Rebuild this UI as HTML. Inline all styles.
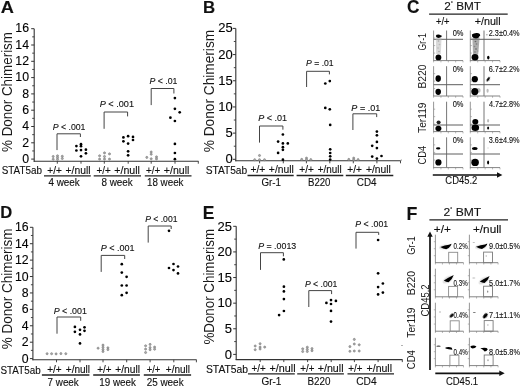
<!DOCTYPE html>
<html><head><meta charset="utf-8"><style>
html,body{margin:0;padding:0;background:#fff;}
svg{display:block;}
text{font-family:"Liberation Sans", sans-serif;stroke:#111;stroke-width:0.12px;}
</style></head><body>
<svg width="520" height="387" viewBox="0 0 520 387">
<defs><filter id="b" x="-50%" y="-50%" width="200%" height="200%"><feGaussianBlur stdDeviation="0.35"/></filter><filter id="gb" x="0" y="0" width="100%" height="100%" color-interpolation-filters="sRGB"><feGaussianBlur stdDeviation="0.3"/></filter><filter id="b2" x="-50%" y="-50%" width="200%" height="200%"><feGaussianBlur stdDeviation="0.7"/></filter></defs>
<rect width="520" height="387" fill="#fff"/>
<g filter="url(#gb)">
<rect width="520" height="387" fill="#fff"/>
<text x="0.73" y="12.90" font-size="17" font-weight="bold" textLength="13.14" lengthAdjust="spacingAndGlyphs" fill="#111">A</text>
<line x1="34.20" y1="28.70" x2="34.20" y2="161.70" stroke="#333" stroke-width="1.1"/>
<line x1="33.70" y1="161.20" x2="198.50" y2="161.20" stroke="#333" stroke-width="1.1"/>
<line x1="31.20" y1="159.10" x2="34.20" y2="159.10" stroke="#333" stroke-width="1"/>
<text x="29.00" y="162.80" font-size="12.3" text-anchor="end">0</text>
<line x1="32.20" y1="150.95" x2="34.20" y2="150.95" stroke="#333" stroke-width="0.9"/>
<line x1="31.20" y1="142.80" x2="34.20" y2="142.80" stroke="#333" stroke-width="1"/>
<text x="29.00" y="146.50" font-size="12.3" text-anchor="end">2</text>
<line x1="32.20" y1="134.65" x2="34.20" y2="134.65" stroke="#333" stroke-width="0.9"/>
<line x1="31.20" y1="126.50" x2="34.20" y2="126.50" stroke="#333" stroke-width="1"/>
<text x="29.00" y="130.20" font-size="12.3" text-anchor="end">4</text>
<line x1="32.20" y1="118.35" x2="34.20" y2="118.35" stroke="#333" stroke-width="0.9"/>
<line x1="31.20" y1="110.20" x2="34.20" y2="110.20" stroke="#333" stroke-width="1"/>
<text x="29.00" y="113.90" font-size="12.3" text-anchor="end">6</text>
<line x1="32.20" y1="102.05" x2="34.20" y2="102.05" stroke="#333" stroke-width="0.9"/>
<line x1="31.20" y1="93.90" x2="34.20" y2="93.90" stroke="#333" stroke-width="1"/>
<text x="29.00" y="97.60" font-size="12.3" text-anchor="end">8</text>
<line x1="32.20" y1="85.75" x2="34.20" y2="85.75" stroke="#333" stroke-width="0.9"/>
<line x1="31.20" y1="77.60" x2="34.20" y2="77.60" stroke="#333" stroke-width="1"/>
<text x="29.00" y="81.30" font-size="12.3" text-anchor="end">10</text>
<line x1="32.20" y1="69.45" x2="34.20" y2="69.45" stroke="#333" stroke-width="0.9"/>
<line x1="31.20" y1="61.30" x2="34.20" y2="61.30" stroke="#333" stroke-width="1"/>
<text x="29.00" y="65.00" font-size="12.3" text-anchor="end">12</text>
<line x1="32.20" y1="53.15" x2="34.20" y2="53.15" stroke="#333" stroke-width="0.9"/>
<line x1="31.20" y1="45.00" x2="34.20" y2="45.00" stroke="#333" stroke-width="1"/>
<text x="29.00" y="48.70" font-size="12.3" text-anchor="end">14</text>
<line x1="32.20" y1="36.85" x2="34.20" y2="36.85" stroke="#333" stroke-width="0.9"/>
<line x1="31.20" y1="28.70" x2="34.20" y2="28.70" stroke="#333" stroke-width="1"/>
<text x="29.00" y="32.40" font-size="12.3" text-anchor="end">16</text>
<line x1="57.30" y1="161.20" x2="57.30" y2="163.70" stroke="#333" stroke-width="0.9"/>
<line x1="81.00" y1="161.20" x2="81.00" y2="163.70" stroke="#333" stroke-width="0.9"/>
<line x1="104.30" y1="161.20" x2="104.30" y2="163.70" stroke="#333" stroke-width="0.9"/>
<line x1="128.20" y1="161.20" x2="128.20" y2="163.70" stroke="#333" stroke-width="0.9"/>
<line x1="151.20" y1="161.20" x2="151.20" y2="163.70" stroke="#333" stroke-width="0.9"/>
<line x1="175.00" y1="161.20" x2="175.00" y2="163.70" stroke="#333" stroke-width="0.9"/>
<line x1="198.30" y1="161.20" x2="198.30" y2="163.70" stroke="#333" stroke-width="0.9"/>
<text transform="translate(12.00,151.96) rotate(-90)" x="0" y="0" font-size="14.5" style="stroke-width:0" textLength="119.97" lengthAdjust="spacingAndGlyphs" fill="#1a1a1a">% Donor Chimerism</text>
<text x="1.71" y="173.80" font-size="10" textLength="40.26" lengthAdjust="spacingAndGlyphs" fill="#111">STAT5ab</text>
<text x="47.30" y="173.50" font-size="10" textLength="14.47" lengthAdjust="spacingAndGlyphs" fill="#111">+/+</text>
<text x="65.48" y="173.50" font-size="10" textLength="25.03" lengthAdjust="spacingAndGlyphs" fill="#111">+/null</text>
<line x1="44.00" y1="175.80" x2="90.80" y2="175.80" stroke="#222" stroke-width="1.3"/>
<text x="48.45" y="185.60" font-size="10" textLength="31.29" lengthAdjust="spacingAndGlyphs" fill="#111">4 week</text>
<text x="96.61" y="173.50" font-size="10" textLength="14.25" lengthAdjust="spacingAndGlyphs" fill="#111">+/+</text>
<text x="114.27" y="173.50" font-size="10" textLength="25.66" lengthAdjust="spacingAndGlyphs" fill="#111">+/null</text>
<line x1="93.70" y1="175.80" x2="141.00" y2="175.80" stroke="#222" stroke-width="1.3"/>
<text x="101.45" y="185.60" font-size="10" textLength="31.39" lengthAdjust="spacingAndGlyphs" fill="#111">8 week</text>
<text x="146.01" y="173.50" font-size="10" textLength="14.25" lengthAdjust="spacingAndGlyphs" fill="#111">+/+</text>
<text x="163.87" y="173.50" font-size="10" textLength="25.55" lengthAdjust="spacingAndGlyphs" fill="#111">+/null</text>
<line x1="144.80" y1="175.80" x2="191.50" y2="175.80" stroke="#222" stroke-width="1.3"/>
<text x="146.96" y="185.60" font-size="10" textLength="36.54" lengthAdjust="spacingAndGlyphs" fill="#111">18 week</text>
<text x="52.77" y="129.80" font-size="9.3" textLength="32.72" lengthAdjust="spacingAndGlyphs" fill="#111"><tspan font-style="italic">P</tspan> &lt; .001</text>
<path d="M57.00 150.10 V133.80 H80.40 V137.00" fill="none" stroke="#444" stroke-width="1"/>
<text x="99.75" y="107.00" font-size="9.3" textLength="34.24" lengthAdjust="spacingAndGlyphs" fill="#111"><tspan font-style="italic">P</tspan> &lt; .001</text>
<path d="M104.10 128.80 V112.00 H127.60 V116.40" fill="none" stroke="#444" stroke-width="1"/>
<text x="149.46" y="84.20" font-size="9.3" textLength="27.96" lengthAdjust="spacingAndGlyphs" fill="#111"><tspan font-style="italic">P</tspan> &lt; .01</text>
<path d="M151.20 105.10 V88.50 H173.90 V93.50" fill="none" stroke="#444" stroke-width="1"/>
<circle cx="53.20" cy="156.50" r="1.05" fill="#aaa" stroke="#777" stroke-width="0.6"/>
<circle cx="53.20" cy="159.20" r="1.05" fill="#aaa" stroke="#777" stroke-width="0.6"/>
<circle cx="57.50" cy="155.80" r="1.05" fill="#aaa" stroke="#777" stroke-width="0.6"/>
<circle cx="57.50" cy="157.60" r="1.05" fill="#aaa" stroke="#777" stroke-width="0.6"/>
<circle cx="57.50" cy="159.40" r="1.05" fill="#aaa" stroke="#777" stroke-width="0.6"/>
<circle cx="62.30" cy="156.30" r="1.05" fill="#aaa" stroke="#777" stroke-width="0.6"/>
<circle cx="62.30" cy="158.50" r="1.05" fill="#aaa" stroke="#777" stroke-width="0.6"/>
<circle cx="99.60" cy="155.80" r="1.05" fill="#aaa" stroke="#777" stroke-width="0.6"/>
<circle cx="99.60" cy="159.10" r="1.05" fill="#aaa" stroke="#777" stroke-width="0.6"/>
<circle cx="104.50" cy="152.90" r="1.05" fill="#aaa" stroke="#777" stroke-width="0.6"/>
<circle cx="104.50" cy="156.50" r="1.05" fill="#aaa" stroke="#777" stroke-width="0.6"/>
<circle cx="104.50" cy="159.10" r="1.05" fill="#aaa" stroke="#777" stroke-width="0.6"/>
<circle cx="109.50" cy="153.90" r="1.05" fill="#aaa" stroke="#777" stroke-width="0.6"/>
<circle cx="109.50" cy="159.10" r="1.05" fill="#aaa" stroke="#777" stroke-width="0.6"/>
<circle cx="146.80" cy="157.40" r="1.05" fill="#aaa" stroke="#777" stroke-width="0.6"/>
<circle cx="151.20" cy="152.00" r="1.05" fill="#aaa" stroke="#777" stroke-width="0.6"/>
<circle cx="151.20" cy="154.20" r="1.05" fill="#aaa" stroke="#777" stroke-width="0.6"/>
<circle cx="151.20" cy="158.80" r="1.05" fill="#aaa" stroke="#777" stroke-width="0.6"/>
<circle cx="156.50" cy="156.90" r="1.05" fill="#aaa" stroke="#777" stroke-width="0.6"/>
<circle cx="156.50" cy="158.90" r="1.05" fill="#aaa" stroke="#777" stroke-width="0.6"/>
<circle cx="76.40" cy="146.10" r="1.35" fill="#000"/>
<circle cx="81.00" cy="144.20" r="1.35" fill="#000"/>
<circle cx="81.00" cy="146.20" r="1.35" fill="#000"/>
<circle cx="76.40" cy="150.50" r="1.35" fill="#000"/>
<circle cx="81.00" cy="150.10" r="1.35" fill="#000"/>
<circle cx="85.90" cy="149.70" r="1.35" fill="#000"/>
<circle cx="85.90" cy="153.30" r="1.35" fill="#000"/>
<circle cx="81.00" cy="156.30" r="1.35" fill="#000"/>
<circle cx="123.40" cy="137.40" r="1.35" fill="#000"/>
<circle cx="128.10" cy="136.20" r="1.35" fill="#000"/>
<circle cx="133.00" cy="136.90" r="1.35" fill="#000"/>
<circle cx="123.40" cy="141.30" r="1.35" fill="#000"/>
<circle cx="133.00" cy="140.00" r="1.35" fill="#000"/>
<circle cx="128.10" cy="143.60" r="1.35" fill="#000"/>
<circle cx="128.10" cy="151.30" r="1.35" fill="#000"/>
<circle cx="128.10" cy="155.30" r="1.35" fill="#000"/>
<circle cx="174.90" cy="98.10" r="1.35" fill="#000"/>
<circle cx="174.90" cy="108.80" r="1.35" fill="#000"/>
<circle cx="179.70" cy="112.30" r="1.35" fill="#000"/>
<circle cx="170.40" cy="117.70" r="1.35" fill="#000"/>
<circle cx="174.90" cy="121.00" r="1.35" fill="#000"/>
<circle cx="174.90" cy="143.90" r="1.35" fill="#000"/>
<circle cx="174.90" cy="153.00" r="1.35" fill="#000"/>
<circle cx="174.90" cy="159.20" r="1.35" fill="#000"/>
<text x="203.01" y="13.00" font-size="17" font-weight="bold" textLength="12.16" lengthAdjust="spacingAndGlyphs" fill="#111">B</text>
<line x1="235.80" y1="28.40" x2="235.80" y2="161.30" stroke="#333" stroke-width="1.1"/>
<line x1="235.30" y1="160.80" x2="400.70" y2="160.80" stroke="#333" stroke-width="1.1"/>
<line x1="232.80" y1="159.30" x2="235.80" y2="159.30" stroke="#333" stroke-width="1"/>
<text x="232.80" y="163.30" font-size="13" text-anchor="end">0</text>
<line x1="233.80" y1="146.21" x2="235.80" y2="146.21" stroke="#333" stroke-width="0.9"/>
<line x1="232.80" y1="133.12" x2="235.80" y2="133.12" stroke="#333" stroke-width="1"/>
<text x="232.80" y="137.12" font-size="13" text-anchor="end">5</text>
<line x1="233.80" y1="120.03" x2="235.80" y2="120.03" stroke="#333" stroke-width="0.9"/>
<line x1="232.80" y1="106.94" x2="235.80" y2="106.94" stroke="#333" stroke-width="1"/>
<text x="232.80" y="110.94" font-size="13" text-anchor="end">10</text>
<line x1="233.80" y1="93.85" x2="235.80" y2="93.85" stroke="#333" stroke-width="0.9"/>
<line x1="232.80" y1="80.76" x2="235.80" y2="80.76" stroke="#333" stroke-width="1"/>
<text x="232.80" y="84.76" font-size="13" text-anchor="end">15</text>
<line x1="233.80" y1="67.67" x2="235.80" y2="67.67" stroke="#333" stroke-width="0.9"/>
<line x1="232.80" y1="54.58" x2="235.80" y2="54.58" stroke="#333" stroke-width="1"/>
<text x="232.80" y="58.58" font-size="13" text-anchor="end">20</text>
<line x1="233.80" y1="41.49" x2="235.80" y2="41.49" stroke="#333" stroke-width="0.9"/>
<line x1="232.80" y1="28.40" x2="235.80" y2="28.40" stroke="#333" stroke-width="1"/>
<text x="232.80" y="32.40" font-size="13" text-anchor="end">25</text>
<line x1="259.60" y1="160.80" x2="259.60" y2="163.30" stroke="#333" stroke-width="0.9"/>
<line x1="283.30" y1="160.80" x2="283.30" y2="163.30" stroke="#333" stroke-width="0.9"/>
<line x1="306.40" y1="160.80" x2="306.40" y2="163.30" stroke="#333" stroke-width="0.9"/>
<line x1="329.80" y1="160.80" x2="329.80" y2="163.30" stroke="#333" stroke-width="0.9"/>
<line x1="353.30" y1="160.80" x2="353.30" y2="163.30" stroke="#333" stroke-width="0.9"/>
<line x1="376.90" y1="160.80" x2="376.90" y2="163.30" stroke="#333" stroke-width="0.9"/>
<line x1="400.50" y1="160.80" x2="400.50" y2="163.30" stroke="#333" stroke-width="0.9"/>
<text transform="translate(213.80,152.27) rotate(-90)" x="0" y="0" font-size="14.5" style="stroke-width:0" textLength="122.40" lengthAdjust="spacingAndGlyphs" fill="#1a1a1a">% Donor Chimerism</text>
<text x="205.69" y="173.60" font-size="10" textLength="41.48" lengthAdjust="spacingAndGlyphs" fill="#111">STAT5ab</text>
<text x="250.49" y="173.20" font-size="10" textLength="14.79" lengthAdjust="spacingAndGlyphs" fill="#111">+/+</text>
<text x="268.88" y="173.20" font-size="10" textLength="24.92" lengthAdjust="spacingAndGlyphs" fill="#111">+/null</text>
<line x1="247.50" y1="175.50" x2="293.70" y2="175.50" stroke="#222" stroke-width="1.3"/>
<text x="261.41" y="185.80" font-size="10" textLength="19.47" lengthAdjust="spacingAndGlyphs" fill="#111">Gr-1</text>
<text x="299.30" y="173.20" font-size="10" textLength="14.47" lengthAdjust="spacingAndGlyphs" fill="#111">+/+</text>
<text x="317.81" y="173.20" font-size="10" textLength="23.87" lengthAdjust="spacingAndGlyphs" fill="#111">+/null</text>
<line x1="296.60" y1="175.50" x2="343.30" y2="175.50" stroke="#222" stroke-width="1.3"/>
<text x="307.98" y="185.80" font-size="10" textLength="22.47" lengthAdjust="spacingAndGlyphs" fill="#111">B220</text>
<text x="347.30" y="173.20" font-size="10" textLength="14.47" lengthAdjust="spacingAndGlyphs" fill="#111">+/+</text>
<text x="365.98" y="173.20" font-size="10" textLength="24.92" lengthAdjust="spacingAndGlyphs" fill="#111">+/null</text>
<line x1="345.80" y1="175.50" x2="393.30" y2="175.50" stroke="#222" stroke-width="1.3"/>
<text x="356.81" y="185.80" font-size="10" textLength="19.76" lengthAdjust="spacingAndGlyphs" fill="#111">CD4</text>
<text x="258.16" y="121.00" font-size="9.3" textLength="28.87" lengthAdjust="spacingAndGlyphs" fill="#111"><tspan font-style="italic">P</tspan> &lt; .01</text>
<path d="M259.50 142.60 V126.00 H282.90 V129.70" fill="none" stroke="#444" stroke-width="1"/>
<text x="306.07" y="66.30" font-size="9.3" textLength="27.55" lengthAdjust="spacingAndGlyphs" fill="#111"><tspan font-style="italic">P</tspan> = .01</text>
<path d="M306.60 87.00 V71.30 H329.40 V74.40" fill="none" stroke="#444" stroke-width="1"/>
<text x="351.36" y="110.70" font-size="9.3" textLength="28.87" lengthAdjust="spacingAndGlyphs" fill="#111"><tspan font-style="italic">P</tspan> = .01</text>
<path d="M352.90 130.00 V113.80 H376.70 V117.10" fill="none" stroke="#444" stroke-width="1"/>
<circle cx="259.50" cy="155.50" r="1.05" fill="#aaa" stroke="#777" stroke-width="0.6"/>
<circle cx="254.70" cy="159.70" r="1.05" fill="#aaa" stroke="#777" stroke-width="0.6"/>
<circle cx="259.50" cy="159.70" r="1.05" fill="#aaa" stroke="#777" stroke-width="0.6"/>
<circle cx="264.50" cy="159.70" r="1.05" fill="#aaa" stroke="#777" stroke-width="0.6"/>
<circle cx="301.70" cy="159.40" r="1.05" fill="#aaa" stroke="#777" stroke-width="0.6"/>
<circle cx="306.50" cy="158.10" r="1.05" fill="#aaa" stroke="#777" stroke-width="0.6"/>
<circle cx="306.50" cy="159.80" r="1.05" fill="#aaa" stroke="#777" stroke-width="0.6"/>
<circle cx="310.80" cy="159.60" r="1.05" fill="#aaa" stroke="#777" stroke-width="0.6"/>
<circle cx="348.80" cy="159.40" r="1.05" fill="#aaa" stroke="#777" stroke-width="0.6"/>
<circle cx="353.70" cy="158.10" r="1.05" fill="#aaa" stroke="#777" stroke-width="0.6"/>
<circle cx="353.70" cy="159.80" r="1.05" fill="#aaa" stroke="#777" stroke-width="0.6"/>
<circle cx="358.10" cy="159.60" r="1.05" fill="#aaa" stroke="#777" stroke-width="0.6"/>
<circle cx="282.90" cy="134.50" r="1.35" fill="#000"/>
<circle cx="278.10" cy="141.60" r="1.35" fill="#000"/>
<circle cx="282.90" cy="143.40" r="1.35" fill="#000"/>
<circle cx="287.80" cy="143.40" r="1.35" fill="#000"/>
<circle cx="282.90" cy="147.20" r="1.35" fill="#000"/>
<circle cx="282.90" cy="149.80" r="1.35" fill="#000"/>
<circle cx="278.10" cy="152.90" r="1.35" fill="#000"/>
<circle cx="282.90" cy="159.70" r="1.35" fill="#000"/>
<circle cx="325.30" cy="83.50" r="1.35" fill="#000"/>
<circle cx="329.80" cy="81.10" r="1.35" fill="#000"/>
<circle cx="325.30" cy="107.90" r="1.35" fill="#000"/>
<circle cx="329.80" cy="109.30" r="1.35" fill="#000"/>
<circle cx="330.20" cy="124.90" r="1.35" fill="#000"/>
<circle cx="330.20" cy="149.30" r="1.35" fill="#000"/>
<circle cx="330.20" cy="153.00" r="1.35" fill="#000"/>
<circle cx="330.20" cy="156.30" r="1.35" fill="#000"/>
<circle cx="330.20" cy="159.60" r="1.35" fill="#000"/>
<circle cx="376.90" cy="131.60" r="1.35" fill="#000"/>
<circle cx="376.90" cy="135.30" r="1.35" fill="#000"/>
<circle cx="376.90" cy="141.90" r="1.35" fill="#000"/>
<circle cx="372.20" cy="145.80" r="1.35" fill="#000"/>
<circle cx="376.90" cy="148.10" r="1.35" fill="#000"/>
<circle cx="372.20" cy="156.60" r="1.35" fill="#000"/>
<circle cx="381.50" cy="156.00" r="1.35" fill="#000"/>
<circle cx="376.90" cy="158.60" r="1.35" fill="#000"/>
<text x="0.32" y="218.30" font-size="17" font-weight="bold" textLength="12.00" lengthAdjust="spacingAndGlyphs" fill="#111">D</text>
<line x1="32.90" y1="227.30" x2="32.90" y2="360.30" stroke="#333" stroke-width="1.1"/>
<line x1="32.40" y1="359.80" x2="196.60" y2="359.80" stroke="#333" stroke-width="1.1"/>
<line x1="29.90" y1="358.60" x2="32.90" y2="358.60" stroke="#333" stroke-width="1"/>
<text x="28.60" y="362.60" font-size="12.3" text-anchor="end">0</text>
<line x1="30.90" y1="350.39" x2="32.90" y2="350.39" stroke="#333" stroke-width="0.9"/>
<line x1="29.90" y1="342.19" x2="32.90" y2="342.19" stroke="#333" stroke-width="1"/>
<text x="28.60" y="346.19" font-size="12.3" text-anchor="end">2</text>
<line x1="30.90" y1="333.98" x2="32.90" y2="333.98" stroke="#333" stroke-width="0.9"/>
<line x1="29.90" y1="325.78" x2="32.90" y2="325.78" stroke="#333" stroke-width="1"/>
<text x="28.60" y="329.78" font-size="12.3" text-anchor="end">4</text>
<line x1="30.90" y1="317.57" x2="32.90" y2="317.57" stroke="#333" stroke-width="0.9"/>
<line x1="29.90" y1="309.36" x2="32.90" y2="309.36" stroke="#333" stroke-width="1"/>
<text x="28.60" y="313.36" font-size="12.3" text-anchor="end">6</text>
<line x1="30.90" y1="301.16" x2="32.90" y2="301.16" stroke="#333" stroke-width="0.9"/>
<line x1="29.90" y1="292.95" x2="32.90" y2="292.95" stroke="#333" stroke-width="1"/>
<text x="28.60" y="296.95" font-size="12.3" text-anchor="end">8</text>
<line x1="30.90" y1="284.74" x2="32.90" y2="284.74" stroke="#333" stroke-width="0.9"/>
<line x1="29.90" y1="276.54" x2="32.90" y2="276.54" stroke="#333" stroke-width="1"/>
<text x="28.60" y="280.54" font-size="12.3" text-anchor="end">10</text>
<line x1="30.90" y1="268.33" x2="32.90" y2="268.33" stroke="#333" stroke-width="0.9"/>
<line x1="29.90" y1="260.12" x2="32.90" y2="260.12" stroke="#333" stroke-width="1"/>
<text x="28.60" y="264.12" font-size="12.3" text-anchor="end">12</text>
<line x1="30.90" y1="251.92" x2="32.90" y2="251.92" stroke="#333" stroke-width="0.9"/>
<line x1="29.90" y1="243.71" x2="32.90" y2="243.71" stroke="#333" stroke-width="1"/>
<text x="28.60" y="247.71" font-size="12.3" text-anchor="end">14</text>
<line x1="30.90" y1="235.51" x2="32.90" y2="235.51" stroke="#333" stroke-width="0.9"/>
<line x1="29.90" y1="227.30" x2="32.90" y2="227.30" stroke="#333" stroke-width="1"/>
<text x="28.60" y="231.30" font-size="12.3" text-anchor="end">16</text>
<line x1="56.50" y1="359.80" x2="56.50" y2="362.30" stroke="#333" stroke-width="0.9"/>
<line x1="80.00" y1="359.80" x2="80.00" y2="362.30" stroke="#333" stroke-width="0.9"/>
<line x1="103.00" y1="359.80" x2="103.00" y2="362.30" stroke="#333" stroke-width="0.9"/>
<line x1="126.70" y1="359.80" x2="126.70" y2="362.30" stroke="#333" stroke-width="0.9"/>
<line x1="150.10" y1="359.80" x2="150.10" y2="362.30" stroke="#333" stroke-width="0.9"/>
<line x1="173.80" y1="359.80" x2="173.80" y2="362.30" stroke="#333" stroke-width="0.9"/>
<line x1="196.40" y1="359.80" x2="196.40" y2="362.30" stroke="#333" stroke-width="0.9"/>
<text transform="translate(11.80,349.27) rotate(-90)" x="0" y="0" font-size="14.5" style="stroke-width:0" textLength="120.68" lengthAdjust="spacingAndGlyphs" fill="#1a1a1a">% Donor Chimerism</text>
<text x="0.51" y="373.60" font-size="10" textLength="40.15" lengthAdjust="spacingAndGlyphs" fill="#111">STAT5ab</text>
<text x="47.20" y="372.60" font-size="10" textLength="14.47" lengthAdjust="spacingAndGlyphs" fill="#111">+/+</text>
<text x="65.80" y="372.60" font-size="10" textLength="24.29" lengthAdjust="spacingAndGlyphs" fill="#111">+/null</text>
<line x1="41.90" y1="375.00" x2="89.40" y2="375.00" stroke="#222" stroke-width="1.3"/>
<text x="47.61" y="385.80" font-size="10" textLength="31.13" lengthAdjust="spacingAndGlyphs" fill="#111">7 week</text>
<text x="97.31" y="372.60" font-size="10" textLength="14.25" lengthAdjust="spacingAndGlyphs" fill="#111">+/+</text>
<text x="115.19" y="372.60" font-size="10" textLength="24.82" lengthAdjust="spacingAndGlyphs" fill="#111">+/null</text>
<line x1="93.20" y1="375.00" x2="139.90" y2="375.00" stroke="#222" stroke-width="1.3"/>
<text x="99.36" y="385.80" font-size="10" textLength="36.54" lengthAdjust="spacingAndGlyphs" fill="#111">19 week</text>
<text x="146.73" y="372.60" font-size="10" textLength="13.61" lengthAdjust="spacingAndGlyphs" fill="#111">+/+</text>
<text x="165.80" y="372.60" font-size="10" textLength="24.19" lengthAdjust="spacingAndGlyphs" fill="#111">+/null</text>
<line x1="143.80" y1="375.00" x2="191.10" y2="375.00" stroke="#222" stroke-width="1.3"/>
<text x="146.70" y="385.80" font-size="10" textLength="36.90" lengthAdjust="spacingAndGlyphs" fill="#111">25 week</text>
<text x="53.66" y="313.80" font-size="9.3" textLength="33.22" lengthAdjust="spacingAndGlyphs" fill="#111"><tspan font-style="italic">P</tspan> &lt; .001</text>
<path d="M57.00 333.70 V317.00 H80.70 V320.80" fill="none" stroke="#444" stroke-width="1"/>
<text x="100.76" y="251.00" font-size="9.3" textLength="33.84" lengthAdjust="spacingAndGlyphs" fill="#111"><tspan font-style="italic">P</tspan> &lt; .001</text>
<path d="M101.20 271.90 V255.40 H124.70 V259.00" fill="none" stroke="#444" stroke-width="1"/>
<text x="145.17" y="221.80" font-size="9.3" textLength="32.31" lengthAdjust="spacingAndGlyphs" fill="#111"><tspan font-style="italic">P</tspan> &lt; .001</text>
<path d="M148.20 242.60 V226.00 H171.20 V229.00" fill="none" stroke="#444" stroke-width="1"/>
<circle cx="47.10" cy="353.70" r="1.05" fill="#aaa" stroke="#777" stroke-width="0.6"/>
<circle cx="51.60" cy="353.70" r="1.05" fill="#aaa" stroke="#777" stroke-width="0.6"/>
<circle cx="56.10" cy="353.90" r="1.05" fill="#aaa" stroke="#777" stroke-width="0.6"/>
<circle cx="60.90" cy="353.60" r="1.05" fill="#aaa" stroke="#777" stroke-width="0.6"/>
<circle cx="65.80" cy="353.70" r="1.05" fill="#aaa" stroke="#777" stroke-width="0.6"/>
<circle cx="98.10" cy="348.20" r="1.05" fill="#aaa" stroke="#777" stroke-width="0.6"/>
<circle cx="103.00" cy="345.10" r="1.05" fill="#aaa" stroke="#777" stroke-width="0.6"/>
<circle cx="103.00" cy="347.30" r="1.05" fill="#aaa" stroke="#777" stroke-width="0.6"/>
<circle cx="103.00" cy="349.50" r="1.05" fill="#aaa" stroke="#777" stroke-width="0.6"/>
<circle cx="103.00" cy="351.50" r="1.05" fill="#aaa" stroke="#777" stroke-width="0.6"/>
<circle cx="107.90" cy="347.80" r="1.05" fill="#aaa" stroke="#777" stroke-width="0.6"/>
<circle cx="107.90" cy="349.60" r="1.05" fill="#aaa" stroke="#777" stroke-width="0.6"/>
<circle cx="145.60" cy="345.80" r="1.05" fill="#aaa" stroke="#777" stroke-width="0.6"/>
<circle cx="145.60" cy="349.10" r="1.05" fill="#aaa" stroke="#777" stroke-width="0.6"/>
<circle cx="145.60" cy="352.50" r="1.05" fill="#aaa" stroke="#777" stroke-width="0.6"/>
<circle cx="150.10" cy="344.40" r="1.05" fill="#aaa" stroke="#777" stroke-width="0.6"/>
<circle cx="150.10" cy="347.60" r="1.05" fill="#aaa" stroke="#777" stroke-width="0.6"/>
<circle cx="150.10" cy="349.70" r="1.05" fill="#aaa" stroke="#777" stroke-width="0.6"/>
<circle cx="154.60" cy="347.10" r="1.05" fill="#aaa" stroke="#777" stroke-width="0.6"/>
<circle cx="154.60" cy="349.20" r="1.05" fill="#aaa" stroke="#777" stroke-width="0.6"/>
<circle cx="74.90" cy="326.90" r="1.35" fill="#000"/>
<circle cx="84.50" cy="327.30" r="1.35" fill="#000"/>
<circle cx="80.00" cy="329.80" r="1.35" fill="#000"/>
<circle cx="74.90" cy="331.80" r="1.35" fill="#000"/>
<circle cx="84.50" cy="330.80" r="1.35" fill="#000"/>
<circle cx="80.00" cy="334.40" r="1.35" fill="#000"/>
<circle cx="80.00" cy="343.40" r="1.35" fill="#000"/>
<circle cx="121.80" cy="264.20" r="1.35" fill="#000"/>
<circle cx="121.80" cy="272.60" r="1.35" fill="#000"/>
<circle cx="126.60" cy="276.80" r="1.35" fill="#000"/>
<circle cx="121.80" cy="285.50" r="1.35" fill="#000"/>
<circle cx="126.60" cy="285.50" r="1.35" fill="#000"/>
<circle cx="126.60" cy="292.80" r="1.35" fill="#000"/>
<circle cx="121.80" cy="295.20" r="1.35" fill="#000"/>
<circle cx="169.00" cy="230.80" r="1.35" fill="#000"/>
<circle cx="173.50" cy="264.00" r="1.35" fill="#000"/>
<circle cx="169.00" cy="268.00" r="1.35" fill="#000"/>
<circle cx="178.00" cy="266.50" r="1.35" fill="#000"/>
<circle cx="173.50" cy="270.10" r="1.35" fill="#000"/>
<circle cx="178.00" cy="273.40" r="1.35" fill="#000"/>
<text x="202.80" y="219.00" font-size="17.5" font-weight="bold" textLength="11.69" lengthAdjust="spacingAndGlyphs" fill="#111">E</text>
<line x1="236.20" y1="226.30" x2="236.20" y2="360.10" stroke="#333" stroke-width="1.1"/>
<line x1="235.70" y1="359.60" x2="402.50" y2="359.60" stroke="#333" stroke-width="1.1"/>
<line x1="233.20" y1="354.40" x2="236.20" y2="354.40" stroke="#333" stroke-width="1"/>
<text x="232.00" y="358.70" font-size="13" text-anchor="end">0</text>
<line x1="234.20" y1="341.59" x2="236.20" y2="341.59" stroke="#333" stroke-width="0.9"/>
<line x1="233.20" y1="328.78" x2="236.20" y2="328.78" stroke="#333" stroke-width="1"/>
<text x="232.00" y="333.08" font-size="13" text-anchor="end">5</text>
<line x1="234.20" y1="315.97" x2="236.20" y2="315.97" stroke="#333" stroke-width="0.9"/>
<line x1="233.20" y1="303.16" x2="236.20" y2="303.16" stroke="#333" stroke-width="1"/>
<text x="232.00" y="307.46" font-size="13" text-anchor="end">10</text>
<line x1="234.20" y1="290.35" x2="236.20" y2="290.35" stroke="#333" stroke-width="0.9"/>
<line x1="233.20" y1="277.54" x2="236.20" y2="277.54" stroke="#333" stroke-width="1"/>
<text x="232.00" y="281.84" font-size="13" text-anchor="end">15</text>
<line x1="234.20" y1="264.73" x2="236.20" y2="264.73" stroke="#333" stroke-width="0.9"/>
<line x1="233.20" y1="251.92" x2="236.20" y2="251.92" stroke="#333" stroke-width="1"/>
<text x="232.00" y="256.22" font-size="13" text-anchor="end">20</text>
<line x1="234.20" y1="239.11" x2="236.20" y2="239.11" stroke="#333" stroke-width="0.9"/>
<line x1="233.20" y1="226.30" x2="236.20" y2="226.30" stroke="#333" stroke-width="1"/>
<text x="232.00" y="230.60" font-size="13" text-anchor="end">25</text>
<line x1="260.20" y1="359.60" x2="260.20" y2="362.10" stroke="#333" stroke-width="0.9"/>
<line x1="283.80" y1="359.60" x2="283.80" y2="362.10" stroke="#333" stroke-width="0.9"/>
<line x1="307.60" y1="359.60" x2="307.60" y2="362.10" stroke="#333" stroke-width="0.9"/>
<line x1="331.20" y1="359.60" x2="331.20" y2="362.10" stroke="#333" stroke-width="0.9"/>
<line x1="354.40" y1="359.60" x2="354.40" y2="362.10" stroke="#333" stroke-width="0.9"/>
<line x1="378.10" y1="359.60" x2="378.10" y2="362.10" stroke="#333" stroke-width="0.9"/>
<line x1="402.30" y1="359.60" x2="402.30" y2="362.10" stroke="#333" stroke-width="0.9"/>
<text transform="translate(213.80,344.56) rotate(-90)" x="0" y="0" font-size="14.5" style="stroke-width:0" textLength="115.64" lengthAdjust="spacingAndGlyphs" fill="#1a1a1a">%Donor Chimerism</text>
<text x="205.98" y="373.20" font-size="10" textLength="42.09" lengthAdjust="spacingAndGlyphs" fill="#111">STAT5ab</text>
<text x="251.61" y="371.60" font-size="10" textLength="14.15" lengthAdjust="spacingAndGlyphs" fill="#111">+/+</text>
<text x="269.46" y="371.60" font-size="10" textLength="26.08" lengthAdjust="spacingAndGlyphs" fill="#111">+/null</text>
<line x1="248.00" y1="373.80" x2="294.80" y2="373.80" stroke="#222" stroke-width="1.3"/>
<text x="261.40" y="385.40" font-size="10" textLength="20.00" lengthAdjust="spacingAndGlyphs" fill="#111">Gr-1</text>
<text x="300.21" y="371.60" font-size="10" textLength="14.15" lengthAdjust="spacingAndGlyphs" fill="#111">+/+</text>
<text x="317.77" y="371.60" font-size="10" textLength="25.76" lengthAdjust="spacingAndGlyphs" fill="#111">+/null</text>
<line x1="297.20" y1="373.80" x2="343.90" y2="373.80" stroke="#222" stroke-width="1.3"/>
<text x="307.46" y="385.40" font-size="10" textLength="22.99" lengthAdjust="spacingAndGlyphs" fill="#111">B220</text>
<text x="348.21" y="371.60" font-size="10" textLength="14.15" lengthAdjust="spacingAndGlyphs" fill="#111">+/+</text>
<text x="366.57" y="371.60" font-size="10" textLength="25.45" lengthAdjust="spacingAndGlyphs" fill="#111">+/null</text>
<line x1="347.50" y1="373.80" x2="394.00" y2="373.80" stroke="#222" stroke-width="1.3"/>
<text x="356.19" y="385.40" font-size="10" textLength="20.38" lengthAdjust="spacingAndGlyphs" fill="#111">CD4</text>
<text x="258.16" y="249.30" font-size="9.3" textLength="38.05" lengthAdjust="spacingAndGlyphs" fill="#111"><tspan font-style="italic">P</tspan> = .0013</text>
<path d="M260.50 269.90 V252.70 H283.40 V256.30" fill="none" stroke="#444" stroke-width="1"/>
<text x="304.97" y="286.70" font-size="9.3" textLength="32.41" lengthAdjust="spacingAndGlyphs" fill="#111"><tspan font-style="italic">P</tspan> &lt; .001</text>
<path d="M308.80 307.00 V290.60 H331.60 V294.10" fill="none" stroke="#444" stroke-width="1"/>
<text x="355.26" y="227.10" font-size="9.3" textLength="32.92" lengthAdjust="spacingAndGlyphs" fill="#111"><tspan font-style="italic">P</tspan> &lt; .001</text>
<path d="M356.00 248.60 V232.30 H378.70 V234.90" fill="none" stroke="#444" stroke-width="1"/>
<circle cx="255.20" cy="346.00" r="1.05" fill="#aaa" stroke="#777" stroke-width="0.6"/>
<circle cx="255.20" cy="349.70" r="1.05" fill="#aaa" stroke="#777" stroke-width="0.6"/>
<circle cx="260.10" cy="343.70" r="1.05" fill="#aaa" stroke="#777" stroke-width="0.6"/>
<circle cx="260.10" cy="347.10" r="1.05" fill="#aaa" stroke="#777" stroke-width="0.6"/>
<circle cx="260.10" cy="349.00" r="1.05" fill="#aaa" stroke="#777" stroke-width="0.6"/>
<circle cx="264.70" cy="347.10" r="1.05" fill="#aaa" stroke="#777" stroke-width="0.6"/>
<circle cx="302.70" cy="348.80" r="1.05" fill="#aaa" stroke="#777" stroke-width="0.6"/>
<circle cx="302.70" cy="351.50" r="1.05" fill="#aaa" stroke="#777" stroke-width="0.6"/>
<circle cx="307.30" cy="347.20" r="1.05" fill="#aaa" stroke="#777" stroke-width="0.6"/>
<circle cx="307.30" cy="349.40" r="1.05" fill="#aaa" stroke="#777" stroke-width="0.6"/>
<circle cx="307.30" cy="351.50" r="1.05" fill="#aaa" stroke="#777" stroke-width="0.6"/>
<circle cx="312.00" cy="348.60" r="1.05" fill="#aaa" stroke="#777" stroke-width="0.6"/>
<circle cx="312.00" cy="350.70" r="1.05" fill="#aaa" stroke="#777" stroke-width="0.6"/>
<circle cx="354.30" cy="339.40" r="1.05" fill="#aaa" stroke="#777" stroke-width="0.6"/>
<circle cx="354.30" cy="344.00" r="1.05" fill="#aaa" stroke="#777" stroke-width="0.6"/>
<circle cx="359.20" cy="344.80" r="1.05" fill="#aaa" stroke="#777" stroke-width="0.6"/>
<circle cx="349.90" cy="346.60" r="1.05" fill="#aaa" stroke="#777" stroke-width="0.6"/>
<circle cx="349.90" cy="351.30" r="1.05" fill="#aaa" stroke="#777" stroke-width="0.6"/>
<circle cx="354.30" cy="351.00" r="1.05" fill="#aaa" stroke="#777" stroke-width="0.6"/>
<circle cx="359.20" cy="351.00" r="1.05" fill="#aaa" stroke="#777" stroke-width="0.6"/>
<circle cx="283.80" cy="259.40" r="1.35" fill="#000"/>
<circle cx="283.90" cy="286.70" r="1.35" fill="#000"/>
<circle cx="283.90" cy="291.40" r="1.35" fill="#000"/>
<circle cx="283.90" cy="299.10" r="1.35" fill="#000"/>
<circle cx="283.90" cy="311.00" r="1.35" fill="#000"/>
<circle cx="279.10" cy="315.10" r="1.35" fill="#000"/>
<circle cx="331.00" cy="300.10" r="1.35" fill="#000"/>
<circle cx="335.90" cy="300.90" r="1.35" fill="#000"/>
<circle cx="326.40" cy="302.90" r="1.35" fill="#000"/>
<circle cx="331.00" cy="304.00" r="1.35" fill="#000"/>
<circle cx="331.00" cy="310.90" r="1.35" fill="#000"/>
<circle cx="331.00" cy="321.60" r="1.35" fill="#000"/>
<circle cx="378.10" cy="240.00" r="1.35" fill="#000"/>
<circle cx="378.10" cy="273.30" r="1.35" fill="#000"/>
<circle cx="382.90" cy="283.50" r="1.35" fill="#000"/>
<circle cx="378.10" cy="287.10" r="1.35" fill="#000"/>
<circle cx="382.90" cy="292.60" r="1.35" fill="#000"/>
<circle cx="378.10" cy="294.40" r="1.35" fill="#000"/>
<text x="407.06" y="13.20" font-size="17.5" font-weight="bold" textLength="12.42" lengthAdjust="spacingAndGlyphs" fill="#111">C</text>
<text x="444.39" y="9.80" font-size="11.5" textLength="36.65" lengthAdjust="spacingAndGlyphs" fill="#111">2<tspan font-size="6" dy="-3.8">˚</tspan><tspan dy="3.8"> BMT</tspan></text>
<line x1="429.10" y1="14.20" x2="507.70" y2="14.20" stroke="#222" stroke-width="1.3"/>
<text x="435.93" y="25.40" font-size="10" textLength="13.61" lengthAdjust="spacingAndGlyphs" fill="#111">+/+</text>
<text x="474.66" y="25.40" font-size="10" textLength="25.98" lengthAdjust="spacingAndGlyphs" fill="#111">+/null</text>
<line x1="433.60" y1="53.08" x2="435.20" y2="53.08" stroke="#999" stroke-width="0.7"/>
<line x1="433.60" y1="45.55" x2="435.20" y2="45.55" stroke="#999" stroke-width="0.7"/>
<line x1="433.60" y1="38.02" x2="435.20" y2="38.02" stroke="#999" stroke-width="0.7"/>
<line x1="433.60" y1="60.60" x2="433.60" y2="62.40" stroke="#999" stroke-width="0.7"/>
<line x1="440.95" y1="60.60" x2="440.95" y2="62.40" stroke="#999" stroke-width="0.7"/>
<line x1="448.30" y1="60.60" x2="448.30" y2="62.40" stroke="#999" stroke-width="0.7"/>
<line x1="455.65" y1="60.60" x2="455.65" y2="62.40" stroke="#999" stroke-width="0.7"/>
<line x1="463.00" y1="60.60" x2="463.00" y2="62.40" stroke="#999" stroke-width="0.7"/>
<line x1="433.60" y1="30.50" x2="433.60" y2="60.60" stroke="#8a8a8a" stroke-width="0.9"/>
<line x1="433.20" y1="60.60" x2="463.00" y2="60.60" stroke="#777" stroke-width="0.9"/>
<line x1="446.60" y1="30.50" x2="446.60" y2="60.60" stroke="#777" stroke-width="1.0"/>
<line x1="433.60" y1="39.30" x2="463.00" y2="39.30" stroke="#5e5e5e" stroke-width="1.0"/>
<line x1="470.30" y1="53.08" x2="471.90" y2="53.08" stroke="#999" stroke-width="0.7"/>
<line x1="470.30" y1="45.55" x2="471.90" y2="45.55" stroke="#999" stroke-width="0.7"/>
<line x1="470.30" y1="38.02" x2="471.90" y2="38.02" stroke="#999" stroke-width="0.7"/>
<line x1="470.30" y1="60.60" x2="470.30" y2="62.40" stroke="#999" stroke-width="0.7"/>
<line x1="477.73" y1="60.60" x2="477.73" y2="62.40" stroke="#999" stroke-width="0.7"/>
<line x1="485.15" y1="60.60" x2="485.15" y2="62.40" stroke="#999" stroke-width="0.7"/>
<line x1="492.57" y1="60.60" x2="492.57" y2="62.40" stroke="#999" stroke-width="0.7"/>
<line x1="500.00" y1="60.60" x2="500.00" y2="62.40" stroke="#999" stroke-width="0.7"/>
<line x1="470.30" y1="30.50" x2="470.30" y2="60.60" stroke="#8a8a8a" stroke-width="0.9"/>
<line x1="469.90" y1="60.60" x2="500.00" y2="60.60" stroke="#777" stroke-width="0.9"/>
<line x1="484.00" y1="30.50" x2="484.00" y2="60.60" stroke="#777" stroke-width="1.0"/>
<line x1="470.30" y1="39.30" x2="500.00" y2="39.30" stroke="#5e5e5e" stroke-width="1.0"/>
<text transform="translate(425.60,50.43) rotate(-90)" x="0" y="0" font-size="10" style="stroke-width:0" textLength="17.26" lengthAdjust="spacingAndGlyphs" fill="#1a1a1a">Gr-1</text>
<text x="452.68" y="35.80" font-size="8.5" textLength="10.78" lengthAdjust="spacingAndGlyphs" fill="#111">0%</text>
<text x="488.79" y="35.80" font-size="8.5" textLength="30.81" lengthAdjust="spacingAndGlyphs" fill="#111">2.3±0.4%</text>
<line x1="433.60" y1="88.55" x2="435.20" y2="88.55" stroke="#999" stroke-width="0.7"/>
<line x1="433.60" y1="81.10" x2="435.20" y2="81.10" stroke="#999" stroke-width="0.7"/>
<line x1="433.60" y1="73.65" x2="435.20" y2="73.65" stroke="#999" stroke-width="0.7"/>
<line x1="433.60" y1="96.00" x2="433.60" y2="97.80" stroke="#999" stroke-width="0.7"/>
<line x1="440.95" y1="96.00" x2="440.95" y2="97.80" stroke="#999" stroke-width="0.7"/>
<line x1="448.30" y1="96.00" x2="448.30" y2="97.80" stroke="#999" stroke-width="0.7"/>
<line x1="455.65" y1="96.00" x2="455.65" y2="97.80" stroke="#999" stroke-width="0.7"/>
<line x1="463.00" y1="96.00" x2="463.00" y2="97.80" stroke="#999" stroke-width="0.7"/>
<line x1="433.60" y1="66.20" x2="433.60" y2="96.00" stroke="#8a8a8a" stroke-width="0.9"/>
<line x1="433.20" y1="96.00" x2="463.00" y2="96.00" stroke="#777" stroke-width="0.9"/>
<line x1="446.60" y1="66.20" x2="446.60" y2="96.00" stroke="#777" stroke-width="1.0"/>
<line x1="433.60" y1="84.70" x2="463.00" y2="84.70" stroke="#5e5e5e" stroke-width="1.0"/>
<line x1="470.30" y1="88.55" x2="471.90" y2="88.55" stroke="#999" stroke-width="0.7"/>
<line x1="470.30" y1="81.10" x2="471.90" y2="81.10" stroke="#999" stroke-width="0.7"/>
<line x1="470.30" y1="73.65" x2="471.90" y2="73.65" stroke="#999" stroke-width="0.7"/>
<line x1="470.30" y1="96.00" x2="470.30" y2="97.80" stroke="#999" stroke-width="0.7"/>
<line x1="477.73" y1="96.00" x2="477.73" y2="97.80" stroke="#999" stroke-width="0.7"/>
<line x1="485.15" y1="96.00" x2="485.15" y2="97.80" stroke="#999" stroke-width="0.7"/>
<line x1="492.57" y1="96.00" x2="492.57" y2="97.80" stroke="#999" stroke-width="0.7"/>
<line x1="500.00" y1="96.00" x2="500.00" y2="97.80" stroke="#999" stroke-width="0.7"/>
<line x1="470.30" y1="66.20" x2="470.30" y2="96.00" stroke="#8a8a8a" stroke-width="0.9"/>
<line x1="469.90" y1="96.00" x2="500.00" y2="96.00" stroke="#777" stroke-width="0.9"/>
<line x1="484.00" y1="66.20" x2="484.00" y2="96.00" stroke="#777" stroke-width="1.0"/>
<line x1="470.30" y1="84.70" x2="500.00" y2="84.70" stroke="#5e5e5e" stroke-width="1.0"/>
<text transform="translate(425.60,88.57) rotate(-90)" x="0" y="0" font-size="10" style="stroke-width:0" textLength="23.94" lengthAdjust="spacingAndGlyphs" fill="#1a1a1a">B220</text>
<text x="452.68" y="71.50" font-size="8.5" textLength="10.78" lengthAdjust="spacingAndGlyphs" fill="#111">0%</text>
<text x="488.79" y="71.50" font-size="8.5" textLength="30.81" lengthAdjust="spacingAndGlyphs" fill="#111">6.7±2.2%</text>
<line x1="433.60" y1="124.12" x2="435.20" y2="124.12" stroke="#999" stroke-width="0.7"/>
<line x1="433.60" y1="116.65" x2="435.20" y2="116.65" stroke="#999" stroke-width="0.7"/>
<line x1="433.60" y1="109.17" x2="435.20" y2="109.17" stroke="#999" stroke-width="0.7"/>
<line x1="433.60" y1="131.60" x2="433.60" y2="133.40" stroke="#999" stroke-width="0.7"/>
<line x1="440.95" y1="131.60" x2="440.95" y2="133.40" stroke="#999" stroke-width="0.7"/>
<line x1="448.30" y1="131.60" x2="448.30" y2="133.40" stroke="#999" stroke-width="0.7"/>
<line x1="455.65" y1="131.60" x2="455.65" y2="133.40" stroke="#999" stroke-width="0.7"/>
<line x1="463.00" y1="131.60" x2="463.00" y2="133.40" stroke="#999" stroke-width="0.7"/>
<line x1="433.60" y1="101.70" x2="433.60" y2="131.60" stroke="#8a8a8a" stroke-width="0.9"/>
<line x1="433.20" y1="131.60" x2="463.00" y2="131.60" stroke="#777" stroke-width="0.9"/>
<line x1="446.60" y1="101.70" x2="446.60" y2="131.60" stroke="#777" stroke-width="1.0"/>
<line x1="433.60" y1="125.00" x2="463.00" y2="125.00" stroke="#5e5e5e" stroke-width="1.0"/>
<line x1="470.30" y1="124.12" x2="471.90" y2="124.12" stroke="#999" stroke-width="0.7"/>
<line x1="470.30" y1="116.65" x2="471.90" y2="116.65" stroke="#999" stroke-width="0.7"/>
<line x1="470.30" y1="109.17" x2="471.90" y2="109.17" stroke="#999" stroke-width="0.7"/>
<line x1="470.30" y1="131.60" x2="470.30" y2="133.40" stroke="#999" stroke-width="0.7"/>
<line x1="477.73" y1="131.60" x2="477.73" y2="133.40" stroke="#999" stroke-width="0.7"/>
<line x1="485.15" y1="131.60" x2="485.15" y2="133.40" stroke="#999" stroke-width="0.7"/>
<line x1="492.57" y1="131.60" x2="492.57" y2="133.40" stroke="#999" stroke-width="0.7"/>
<line x1="500.00" y1="131.60" x2="500.00" y2="133.40" stroke="#999" stroke-width="0.7"/>
<line x1="470.30" y1="101.70" x2="470.30" y2="131.60" stroke="#8a8a8a" stroke-width="0.9"/>
<line x1="469.90" y1="131.60" x2="500.00" y2="131.60" stroke="#777" stroke-width="0.9"/>
<line x1="484.00" y1="101.70" x2="484.00" y2="131.60" stroke="#777" stroke-width="1.0"/>
<line x1="470.30" y1="125.00" x2="500.00" y2="125.00" stroke="#5e5e5e" stroke-width="1.0"/>
<text transform="translate(425.60,132.96) rotate(-90)" x="0" y="0" font-size="10" style="stroke-width:0" textLength="30.46" lengthAdjust="spacingAndGlyphs" fill="#1a1a1a">Ter119</text>
<text x="452.68" y="107.00" font-size="8.5" textLength="10.78" lengthAdjust="spacingAndGlyphs" fill="#111">0%</text>
<text x="489.00" y="107.00" font-size="8.5" textLength="30.59" lengthAdjust="spacingAndGlyphs" fill="#111">4.7±2.8%</text>
<line x1="433.60" y1="160.03" x2="435.20" y2="160.03" stroke="#999" stroke-width="0.7"/>
<line x1="433.60" y1="152.45" x2="435.20" y2="152.45" stroke="#999" stroke-width="0.7"/>
<line x1="433.60" y1="144.88" x2="435.20" y2="144.88" stroke="#999" stroke-width="0.7"/>
<line x1="433.60" y1="167.60" x2="433.60" y2="169.40" stroke="#999" stroke-width="0.7"/>
<line x1="440.95" y1="167.60" x2="440.95" y2="169.40" stroke="#999" stroke-width="0.7"/>
<line x1="448.30" y1="167.60" x2="448.30" y2="169.40" stroke="#999" stroke-width="0.7"/>
<line x1="455.65" y1="167.60" x2="455.65" y2="169.40" stroke="#999" stroke-width="0.7"/>
<line x1="463.00" y1="167.60" x2="463.00" y2="169.40" stroke="#999" stroke-width="0.7"/>
<line x1="433.60" y1="137.30" x2="433.60" y2="167.60" stroke="#8a8a8a" stroke-width="0.9"/>
<line x1="433.20" y1="167.60" x2="463.00" y2="167.60" stroke="#777" stroke-width="0.9"/>
<line x1="446.60" y1="137.30" x2="446.60" y2="167.60" stroke="#777" stroke-width="1.0"/>
<line x1="433.60" y1="154.00" x2="463.00" y2="154.00" stroke="#5e5e5e" stroke-width="1.0"/>
<line x1="470.30" y1="160.03" x2="471.90" y2="160.03" stroke="#999" stroke-width="0.7"/>
<line x1="470.30" y1="152.45" x2="471.90" y2="152.45" stroke="#999" stroke-width="0.7"/>
<line x1="470.30" y1="144.88" x2="471.90" y2="144.88" stroke="#999" stroke-width="0.7"/>
<line x1="470.30" y1="167.60" x2="470.30" y2="169.40" stroke="#999" stroke-width="0.7"/>
<line x1="477.73" y1="167.60" x2="477.73" y2="169.40" stroke="#999" stroke-width="0.7"/>
<line x1="485.15" y1="167.60" x2="485.15" y2="169.40" stroke="#999" stroke-width="0.7"/>
<line x1="492.57" y1="167.60" x2="492.57" y2="169.40" stroke="#999" stroke-width="0.7"/>
<line x1="500.00" y1="167.60" x2="500.00" y2="169.40" stroke="#999" stroke-width="0.7"/>
<line x1="470.30" y1="137.30" x2="470.30" y2="167.60" stroke="#8a8a8a" stroke-width="0.9"/>
<line x1="469.90" y1="167.60" x2="500.00" y2="167.60" stroke="#777" stroke-width="0.9"/>
<line x1="484.00" y1="137.30" x2="484.00" y2="167.60" stroke="#777" stroke-width="1.0"/>
<line x1="470.30" y1="154.00" x2="500.00" y2="154.00" stroke="#5e5e5e" stroke-width="1.0"/>
<text transform="translate(425.60,164.46) rotate(-90)" x="0" y="0" font-size="10" style="stroke-width:0" textLength="18.61" lengthAdjust="spacingAndGlyphs" fill="#1a1a1a">CD4</text>
<text x="452.68" y="142.60" font-size="8.5" textLength="10.78" lengthAdjust="spacingAndGlyphs" fill="#111">0%</text>
<text x="488.79" y="142.60" font-size="8.5" textLength="30.81" lengthAdjust="spacingAndGlyphs" fill="#111">3.6±4.9%</text>
<path d="M435.8 37.5 L441.6 37.5 L440.8 54 L436.2 54 Z" fill="#bbb" opacity="0.55" filter="url(#b2)"/>
<path d="M472.4 37.5 L479.6 37.5 L478.2 54.5 L473.0 54.5 Z" fill="#777" opacity="0.6" filter="url(#b2)"/>
<ellipse cx="438.50" cy="41.00" rx="0.9" ry="0.7" fill="#aaa" filter="url(#b)"/>
<ellipse cx="439.50" cy="44.50" rx="0.9" ry="0.7" fill="#bbb" filter="url(#b)"/>
<ellipse cx="438.00" cy="48.00" rx="0.9" ry="0.7" fill="#bbb" filter="url(#b)"/>
<ellipse cx="439.00" cy="51.50" rx="0.9" ry="0.7" fill="#aaa" filter="url(#b)"/>
<ellipse cx="475.50" cy="41.50" rx="0.9" ry="0.7" fill="#666" filter="url(#b)"/>
<ellipse cx="476.50" cy="44.00" rx="0.9" ry="0.7" fill="#777" filter="url(#b)"/>
<ellipse cx="474.50" cy="46.50" rx="0.9" ry="0.7" fill="#888" filter="url(#b)"/>
<ellipse cx="476.00" cy="49.00" rx="0.9" ry="0.7" fill="#666" filter="url(#b)"/>
<ellipse cx="475.00" cy="52.00" rx="0.9" ry="0.7" fill="#777" filter="url(#b)"/>
<ellipse cx="477.50" cy="51.00" rx="0.9" ry="0.7" fill="#999" filter="url(#b)"/>
<path d="M435.8 36.0 Q436.2 34.4 439 34.6 L442.2 36.0 Q440.5 37.9 438.2 37.9 Q436.1 37.6 435.8 36.0 Z" fill="#000" filter="url(#b)"/>
<ellipse cx="438.40" cy="57.40" rx="2.9" ry="2.9" fill="#000" filter="url(#b)"/>
<path d="M471.9 34.6 Q473.8 32.9 477 33.1 Q480.3 33.6 480.1 35.4 Q478.8 38.2 476 38.5 Q473.3 38.1 472.2 36.4 Z" fill="#000" filter="url(#b)"/>
<ellipse cx="475.00" cy="57.30" rx="3.4" ry="3.2" fill="#000" filter="url(#b)"/>
<ellipse cx="488.30" cy="57.60" rx="1.2" ry="1.9" fill="#000" filter="url(#b)"/>
<ellipse cx="438.20" cy="78.60" rx="2.7" ry="3.3" fill="#000" filter="url(#b)"/>
<ellipse cx="438.20" cy="91.80" rx="2.8" ry="3.1" fill="#000" filter="url(#b)"/>
<ellipse cx="478.00" cy="90.50" rx="2.6" ry="2.4" fill="#999" filter="url(#b)" opacity="0.6"/>
<ellipse cx="474.80" cy="79.20" rx="3.1" ry="3.1" fill="#000" filter="url(#b)"/>
<ellipse cx="474.80" cy="91.60" rx="3.5" ry="3.6" fill="#000" filter="url(#b)"/>
<ellipse cx="488.20" cy="79.30" rx="1.1" ry="2.7" fill="#000" transform="rotate(35 488.20 79.30)" filter="url(#b)"/>
<ellipse cx="487.60" cy="90.80" rx="1.1" ry="2.0" fill="#bbb" filter="url(#b)"/>
<ellipse cx="438.60" cy="122.30" rx="2.0" ry="1.9" fill="#222" filter="url(#b)"/>
<ellipse cx="438.40" cy="128.50" rx="3.0" ry="2.8" fill="#000" filter="url(#b)"/>
<ellipse cx="475.30" cy="121.70" rx="3.0" ry="2.7" fill="#000" filter="url(#b)"/>
<ellipse cx="475.30" cy="127.80" rx="3.8" ry="3.3" fill="#000" filter="url(#b)"/>
<ellipse cx="488.10" cy="128.00" rx="1.0" ry="1.6" fill="#000" filter="url(#b)"/>
<ellipse cx="488.10" cy="120.80" rx="1.1" ry="1.8" fill="#bbb" filter="url(#b)"/>
<ellipse cx="486.90" cy="34.80" rx="0.6" ry="0.8" fill="#888" filter="url(#b)"/>
<ellipse cx="438.20" cy="148.40" rx="2.2" ry="1.1" fill="#000" filter="url(#b)"/>
<ellipse cx="438.40" cy="162.40" rx="3.1" ry="3.1" fill="#000" filter="url(#b)"/>
<ellipse cx="474.80" cy="148.40" rx="2.9" ry="1.5" fill="#000" filter="url(#b)"/>
<ellipse cx="475.10" cy="162.40" rx="3.8" ry="3.7" fill="#000" filter="url(#b)"/>
<ellipse cx="488.10" cy="162.40" rx="1.0" ry="2.0" fill="#000" filter="url(#b)"/>
<ellipse cx="488.00" cy="148.00" rx="0.8" ry="0.8" fill="#ddd" filter="url(#b)"/>
<line x1="432.80" y1="175.00" x2="498.50" y2="175.00" stroke="#111" stroke-width="1.7"/>
<path d="M502.4 175 L497.0 172.3 L497.0 177.7 Z" fill="#111"/>
<text x="445.33" y="184.40" font-size="10" textLength="31.95" lengthAdjust="spacingAndGlyphs" fill="#111">CD45.2</text>
<circle cx="401.30" cy="160.00" r="0.6" fill="#666"/>
<text x="406.58" y="219.50" font-size="17.5" font-weight="bold" textLength="10.88" lengthAdjust="spacingAndGlyphs" fill="#111">F</text>
<text x="443.48" y="215.90" font-size="11.5" textLength="37.67" lengthAdjust="spacingAndGlyphs" fill="#111">2<tspan font-size="6" dy="-3.8">˚</tspan><tspan dy="3.8"> BMT</tspan></text>
<line x1="429.40" y1="219.80" x2="508.00" y2="219.80" stroke="#222" stroke-width="1.3"/>
<text x="433.81" y="233.00" font-size="10" textLength="17.04" lengthAdjust="spacingAndGlyphs" fill="#111">+/+</text>
<text x="473.01" y="233.00" font-size="10" textLength="28.39" lengthAdjust="spacingAndGlyphs" fill="#111">+/null</text>
<line x1="430.00" y1="235.00" x2="430.00" y2="370.00" stroke="#111" stroke-width="1.7"/>
<path d="M430 231.4 L427.3 236.8 L432.7 236.8 Z" fill="#111"/>
<line x1="435.30" y1="373.30" x2="500.50" y2="373.30" stroke="#111" stroke-width="1.7"/>
<path d="M504.7 373.3 L499.3 370.6 L499.3 376.0 Z" fill="#111"/>
<text x="445.93" y="385.20" font-size="10" textLength="32.16" lengthAdjust="spacingAndGlyphs" fill="#111">CD45.1</text>
<text transform="translate(428.80,316.57) rotate(-90)" x="0" y="0" font-size="10" style="stroke-width:0" textLength="32.16" lengthAdjust="spacingAndGlyphs" fill="#1a1a1a">CD45.2</text>
<line x1="433.80" y1="255.70" x2="435.40" y2="255.70" stroke="#999" stroke-width="0.7"/>
<line x1="433.80" y1="248.70" x2="435.40" y2="248.70" stroke="#999" stroke-width="0.7"/>
<line x1="433.80" y1="241.70" x2="435.40" y2="241.70" stroke="#999" stroke-width="0.7"/>
<line x1="435.40" y1="262.70" x2="435.40" y2="264.50" stroke="#999" stroke-width="0.7"/>
<line x1="442.42" y1="262.70" x2="442.42" y2="264.50" stroke="#999" stroke-width="0.7"/>
<line x1="449.45" y1="262.70" x2="449.45" y2="264.50" stroke="#999" stroke-width="0.7"/>
<line x1="456.48" y1="262.70" x2="456.48" y2="264.50" stroke="#999" stroke-width="0.7"/>
<line x1="463.50" y1="262.70" x2="463.50" y2="264.50" stroke="#999" stroke-width="0.7"/>
<line x1="435.40" y1="234.70" x2="435.40" y2="262.70" stroke="#8a8a8a" stroke-width="0.9"/>
<line x1="435.00" y1="262.70" x2="463.50" y2="262.70" stroke="#777" stroke-width="0.9"/>
<line x1="467.80" y1="255.70" x2="469.40" y2="255.70" stroke="#999" stroke-width="0.7"/>
<line x1="467.80" y1="248.70" x2="469.40" y2="248.70" stroke="#999" stroke-width="0.7"/>
<line x1="467.80" y1="241.70" x2="469.40" y2="241.70" stroke="#999" stroke-width="0.7"/>
<line x1="469.40" y1="262.70" x2="469.40" y2="264.50" stroke="#999" stroke-width="0.7"/>
<line x1="476.57" y1="262.70" x2="476.57" y2="264.50" stroke="#999" stroke-width="0.7"/>
<line x1="483.75" y1="262.70" x2="483.75" y2="264.50" stroke="#999" stroke-width="0.7"/>
<line x1="490.93" y1="262.70" x2="490.93" y2="264.50" stroke="#999" stroke-width="0.7"/>
<line x1="498.10" y1="262.70" x2="498.10" y2="264.50" stroke="#999" stroke-width="0.7"/>
<line x1="469.40" y1="234.70" x2="469.40" y2="262.70" stroke="#8a8a8a" stroke-width="0.9"/>
<line x1="469.00" y1="262.70" x2="498.10" y2="262.70" stroke="#777" stroke-width="0.9"/>
<text transform="translate(415.20,254.86) rotate(-90)" x="0" y="0" font-size="10" style="stroke-width:0" textLength="18.53" lengthAdjust="spacingAndGlyphs" fill="#1a1a1a">Gr-1</text>
<rect x="448.70" y="252.30" width="9.0" height="10.4" fill="none" stroke="#8a8a8a" stroke-width="0.9"/>
<rect x="483.60" y="252.10" width="8.9" height="10.6" fill="none" stroke="#7a7a7a" stroke-width="0.9"/>
<text x="453.62" y="249.30" font-size="8.5" textLength="14.07" lengthAdjust="spacingAndGlyphs" fill="#111">0.2%</text>
<text x="489.09" y="249.30" font-size="8.5" textLength="30.81" lengthAdjust="spacingAndGlyphs" fill="#111">9.0±0.5%</text>
<line x1="433.80" y1="289.77" x2="435.40" y2="289.77" stroke="#999" stroke-width="0.7"/>
<line x1="433.80" y1="282.75" x2="435.40" y2="282.75" stroke="#999" stroke-width="0.7"/>
<line x1="433.80" y1="275.73" x2="435.40" y2="275.73" stroke="#999" stroke-width="0.7"/>
<line x1="435.40" y1="296.80" x2="435.40" y2="298.60" stroke="#999" stroke-width="0.7"/>
<line x1="442.42" y1="296.80" x2="442.42" y2="298.60" stroke="#999" stroke-width="0.7"/>
<line x1="449.45" y1="296.80" x2="449.45" y2="298.60" stroke="#999" stroke-width="0.7"/>
<line x1="456.48" y1="296.80" x2="456.48" y2="298.60" stroke="#999" stroke-width="0.7"/>
<line x1="463.50" y1="296.80" x2="463.50" y2="298.60" stroke="#999" stroke-width="0.7"/>
<line x1="435.40" y1="268.70" x2="435.40" y2="296.80" stroke="#8a8a8a" stroke-width="0.9"/>
<line x1="435.00" y1="296.80" x2="463.50" y2="296.80" stroke="#777" stroke-width="0.9"/>
<line x1="467.80" y1="289.77" x2="469.40" y2="289.77" stroke="#999" stroke-width="0.7"/>
<line x1="467.80" y1="282.75" x2="469.40" y2="282.75" stroke="#999" stroke-width="0.7"/>
<line x1="467.80" y1="275.73" x2="469.40" y2="275.73" stroke="#999" stroke-width="0.7"/>
<line x1="469.40" y1="296.80" x2="469.40" y2="298.60" stroke="#999" stroke-width="0.7"/>
<line x1="476.57" y1="296.80" x2="476.57" y2="298.60" stroke="#999" stroke-width="0.7"/>
<line x1="483.75" y1="296.80" x2="483.75" y2="298.60" stroke="#999" stroke-width="0.7"/>
<line x1="490.93" y1="296.80" x2="490.93" y2="298.60" stroke="#999" stroke-width="0.7"/>
<line x1="498.10" y1="296.80" x2="498.10" y2="298.60" stroke="#999" stroke-width="0.7"/>
<line x1="469.40" y1="268.70" x2="469.40" y2="296.80" stroke="#8a8a8a" stroke-width="0.9"/>
<line x1="469.00" y1="296.80" x2="498.10" y2="296.80" stroke="#777" stroke-width="0.9"/>
<text transform="translate(415.20,295.28) rotate(-90)" x="0" y="0" font-size="10" style="stroke-width:0" textLength="24.36" lengthAdjust="spacingAndGlyphs" fill="#1a1a1a">B220</text>
<rect x="448.60" y="286.40" width="9.0" height="10.4" fill="none" stroke="#8a8a8a" stroke-width="0.9"/>
<rect x="483.60" y="286.20" width="8.9" height="10.6" fill="none" stroke="#7a7a7a" stroke-width="0.9"/>
<text x="453.62" y="285.90" font-size="8.5" textLength="14.07" lengthAdjust="spacingAndGlyphs" fill="#111">0.3%</text>
<text x="489.09" y="285.90" font-size="8.5" textLength="30.81" lengthAdjust="spacingAndGlyphs" fill="#111">5.0±1.7%</text>
<line x1="433.80" y1="324.07" x2="435.40" y2="324.07" stroke="#999" stroke-width="0.7"/>
<line x1="433.80" y1="316.95" x2="435.40" y2="316.95" stroke="#999" stroke-width="0.7"/>
<line x1="433.80" y1="309.82" x2="435.40" y2="309.82" stroke="#999" stroke-width="0.7"/>
<line x1="435.40" y1="331.20" x2="435.40" y2="333.00" stroke="#999" stroke-width="0.7"/>
<line x1="442.42" y1="331.20" x2="442.42" y2="333.00" stroke="#999" stroke-width="0.7"/>
<line x1="449.45" y1="331.20" x2="449.45" y2="333.00" stroke="#999" stroke-width="0.7"/>
<line x1="456.48" y1="331.20" x2="456.48" y2="333.00" stroke="#999" stroke-width="0.7"/>
<line x1="463.50" y1="331.20" x2="463.50" y2="333.00" stroke="#999" stroke-width="0.7"/>
<line x1="435.40" y1="302.70" x2="435.40" y2="331.20" stroke="#8a8a8a" stroke-width="0.9"/>
<line x1="435.00" y1="331.20" x2="463.50" y2="331.20" stroke="#777" stroke-width="0.9"/>
<line x1="467.80" y1="324.07" x2="469.40" y2="324.07" stroke="#999" stroke-width="0.7"/>
<line x1="467.80" y1="316.95" x2="469.40" y2="316.95" stroke="#999" stroke-width="0.7"/>
<line x1="467.80" y1="309.82" x2="469.40" y2="309.82" stroke="#999" stroke-width="0.7"/>
<line x1="469.40" y1="331.20" x2="469.40" y2="333.00" stroke="#999" stroke-width="0.7"/>
<line x1="476.57" y1="331.20" x2="476.57" y2="333.00" stroke="#999" stroke-width="0.7"/>
<line x1="483.75" y1="331.20" x2="483.75" y2="333.00" stroke="#999" stroke-width="0.7"/>
<line x1="490.93" y1="331.20" x2="490.93" y2="333.00" stroke="#999" stroke-width="0.7"/>
<line x1="498.10" y1="331.20" x2="498.10" y2="333.00" stroke="#999" stroke-width="0.7"/>
<line x1="469.40" y1="302.70" x2="469.40" y2="331.20" stroke="#8a8a8a" stroke-width="0.9"/>
<line x1="469.00" y1="331.20" x2="498.10" y2="331.20" stroke="#777" stroke-width="0.9"/>
<text transform="translate(415.20,337.65) rotate(-90)" x="0" y="0" font-size="10" style="stroke-width:0" textLength="30.15" lengthAdjust="spacingAndGlyphs" fill="#1a1a1a">Ter119</text>
<rect x="450.20" y="320.80" width="9.0" height="10.4" fill="none" stroke="#8a8a8a" stroke-width="0.9"/>
<rect x="484.20" y="320.60" width="8.9" height="10.6" fill="none" stroke="#7a7a7a" stroke-width="0.9"/>
<text x="453.62" y="318.40" font-size="8.5" textLength="14.07" lengthAdjust="spacingAndGlyphs" fill="#111">0.4%</text>
<text x="489.09" y="318.40" font-size="8.5" textLength="30.81" lengthAdjust="spacingAndGlyphs" fill="#111">7.1±1.1%</text>
<line x1="433.80" y1="358.65" x2="435.40" y2="358.65" stroke="#999" stroke-width="0.7"/>
<line x1="433.80" y1="351.70" x2="435.40" y2="351.70" stroke="#999" stroke-width="0.7"/>
<line x1="433.80" y1="344.75" x2="435.40" y2="344.75" stroke="#999" stroke-width="0.7"/>
<line x1="435.40" y1="365.60" x2="435.40" y2="367.40" stroke="#999" stroke-width="0.7"/>
<line x1="442.42" y1="365.60" x2="442.42" y2="367.40" stroke="#999" stroke-width="0.7"/>
<line x1="449.45" y1="365.60" x2="449.45" y2="367.40" stroke="#999" stroke-width="0.7"/>
<line x1="456.48" y1="365.60" x2="456.48" y2="367.40" stroke="#999" stroke-width="0.7"/>
<line x1="463.50" y1="365.60" x2="463.50" y2="367.40" stroke="#999" stroke-width="0.7"/>
<line x1="435.40" y1="337.80" x2="435.40" y2="365.60" stroke="#8a8a8a" stroke-width="0.9"/>
<line x1="435.00" y1="365.60" x2="463.50" y2="365.60" stroke="#777" stroke-width="0.9"/>
<line x1="467.80" y1="358.65" x2="469.40" y2="358.65" stroke="#999" stroke-width="0.7"/>
<line x1="467.80" y1="351.70" x2="469.40" y2="351.70" stroke="#999" stroke-width="0.7"/>
<line x1="467.80" y1="344.75" x2="469.40" y2="344.75" stroke="#999" stroke-width="0.7"/>
<line x1="469.40" y1="365.60" x2="469.40" y2="367.40" stroke="#999" stroke-width="0.7"/>
<line x1="476.57" y1="365.60" x2="476.57" y2="367.40" stroke="#999" stroke-width="0.7"/>
<line x1="483.75" y1="365.60" x2="483.75" y2="367.40" stroke="#999" stroke-width="0.7"/>
<line x1="490.93" y1="365.60" x2="490.93" y2="367.40" stroke="#999" stroke-width="0.7"/>
<line x1="498.10" y1="365.60" x2="498.10" y2="367.40" stroke="#999" stroke-width="0.7"/>
<line x1="469.40" y1="337.80" x2="469.40" y2="365.60" stroke="#8a8a8a" stroke-width="0.9"/>
<line x1="469.00" y1="365.60" x2="498.10" y2="365.60" stroke="#777" stroke-width="0.9"/>
<text transform="translate(415.20,369.28) rotate(-90)" x="0" y="0" font-size="10" style="stroke-width:0" textLength="19.24" lengthAdjust="spacingAndGlyphs" fill="#1a1a1a">CD4</text>
<rect x="449.90" y="355.20" width="9.0" height="10.4" fill="none" stroke="#8a8a8a" stroke-width="0.9"/>
<rect x="484.20" y="355.00" width="8.9" height="10.6" fill="none" stroke="#7a7a7a" stroke-width="0.9"/>
<text x="453.62" y="354.50" font-size="8.5" textLength="14.07" lengthAdjust="spacingAndGlyphs" fill="#111">0.4%</text>
<text x="489.09" y="354.50" font-size="8.5" textLength="30.81" lengthAdjust="spacingAndGlyphs" fill="#111">8.0±5.8%</text>
<ellipse cx="445.00" cy="247.00" rx="6" ry="2.4" fill="#bbb" transform="rotate(-8 445.00 247.00)" filter="url(#b)" opacity="0.45"/>
<ellipse cx="481.00" cy="246.80" rx="6" ry="2.4" fill="#bbb" transform="rotate(-8 481.00 246.80)" filter="url(#b)" opacity="0.45"/>
<ellipse cx="448.00" cy="279.50" rx="6" ry="3" fill="#bbb" transform="rotate(-30 448.00 279.50)" filter="url(#b)" opacity="0.45"/>
<ellipse cx="484.00" cy="280.50" rx="6" ry="3" fill="#bbb" transform="rotate(-30 484.00 280.50)" filter="url(#b)" opacity="0.45"/>
<path d="M440.3 247.0 Q445 245.4 449 244.8 L451.4 243.8 L451.2 245 Q449.4 248.0 446.2 249.2 Q443 248.8 440.3 247.0 Z" fill="#000" filter="url(#b)"/>
<path d="M476.0 246.8 Q481 245.2 485 244.6 L487.2 243.6 L487.0 244.8 Q485.2 247.8 482 249.0 Q479 248.6 476.0 246.8 Z" fill="#000" filter="url(#b)"/>
<path d="M443.8 280.4 Q448 277.6 453.8 274.9 Q452 279.6 448.6 282.2 Q446 281.8 443.8 280.4 Z" fill="#000" filter="url(#b)"/>
<path d="M479.8 281.4 Q484 278.6 489.6 275.9 Q488 280.4 484.6 283.0 Q482 282.6 479.8 281.4 Z" fill="#000" filter="url(#b)"/>
<ellipse cx="451.70" cy="315.60" rx="2.6" ry="1.4" fill="#000" transform="rotate(-45 451.70 315.60)" filter="url(#b)"/>
<ellipse cx="485.30" cy="315.80" rx="3.0" ry="1.7" fill="#000" transform="rotate(-50 485.30 315.80)" filter="url(#b)"/>
<ellipse cx="440.00" cy="312.00" rx="1.0" ry="0.7" fill="#bbb" filter="url(#b)"/>
<ellipse cx="474.30" cy="312.50" rx="1.5" ry="0.6" fill="#777" filter="url(#b)"/>
<ellipse cx="438.50" cy="346.20" rx="2.2" ry="0.6" fill="#444" filter="url(#b)"/>
<path d="M445.5 347.5 Q449 346.4 451.8 347.8 L452.4 349.8 Q448.5 349.4 445.5 348.4 Z" fill="#000" filter="url(#b)"/>
<path d="M470.3 346.6 Q471.5 345.4 474 345.6 Q476.2 346.0 476.4 346.8 Q475 348.6 472.5 348.6 Q470.6 348.0 470.3 346.6 Z" fill="#000" filter="url(#b)"/>
<path d="M480.3 348.3 Q483.5 347.2 486.5 347.9 L487.8 349.2 Q486.5 351.4 484.6 351.6 Q483.5 349.6 480.3 348.3 Z" fill="#000" filter="url(#b)"/>
<ellipse cx="473.80" cy="242.50" rx="1.2" ry="0.5" fill="#bbb" filter="url(#b)"/>
<ellipse cx="473.80" cy="278.00" rx="1.6" ry="0.7" fill="#ccc" filter="url(#b)"/>
<ellipse cx="487.70" cy="291.60" rx="0.6" ry="1.2" fill="#888" filter="url(#b)"/>
<ellipse cx="486.20" cy="256.00" rx="0.6" ry="1.0" fill="#bbb" filter="url(#b)"/>
<ellipse cx="487.90" cy="325.00" rx="0.6" ry="1.0" fill="#bbb" filter="url(#b)"/>
<ellipse cx="488.00" cy="360.30" rx="0.8" ry="1.0" fill="#aaa" filter="url(#b)"/>
<circle cx="402.00" cy="345.50" r="0.6" fill="#555"/>
</g>
</svg></body></html>
